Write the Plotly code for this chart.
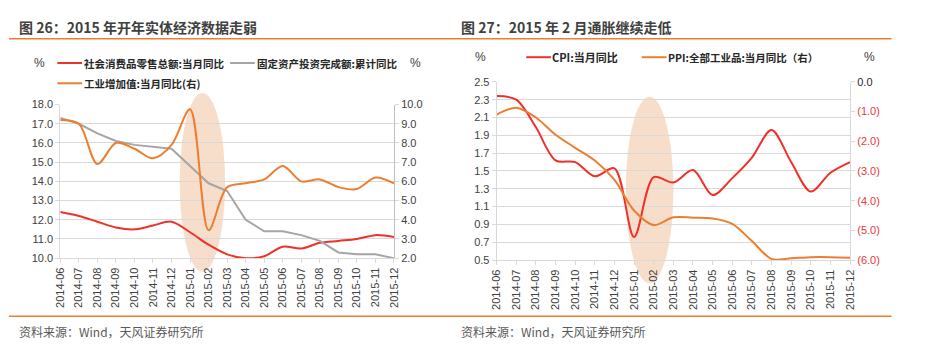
import plotly.graph_objects as go

W, H = 938, 355

months = ["2014-06", "2014-07", "2014-08", "2014-09", "2014-10", "2014-11", "2014-12",
          "2015-01", "2015-02", "2015-03", "2015-04", "2015-05", "2015-06", "2015-07",
          "2015-08", "2015-09", "2015-10", "2015-11", "2015-12"]

# Chart 26
retail_yoy = [12.4, 12.2, 11.9, 11.6, 11.5, 11.7, 11.9, 11.35, 10.7, 10.2, 10.0, 10.1,
              10.6, 10.5, 10.8, 10.9, 11.0, 11.2, 11.1]
fai_ytd = [17.3, 17.0, 16.5, 16.1, 15.9, 15.8, 15.7, 14.8, 13.9, 13.5, 12.0, 11.4,
           11.4, 11.2, 10.9, 10.3, 10.2, 10.2, 10.0]
ip_yoy = [9.2, 9.0, 6.9, 8.0, 7.7, 7.2, 7.9, 9.75, 3.45, 5.7, 5.9, 6.1,
          6.8, 6.0, 6.1, 5.7, 5.6, 6.2, 5.9]

# Chart 27
cpi_yoy = [2.34, 2.30, 1.99, 1.62, 1.60, 1.44, 1.53, 0.76, 1.43, 1.37, 1.51, 1.23,
           1.42, 1.65, 1.96, 1.60, 1.27, 1.48, 1.60]
ppi_yoy = [-1.1, -0.87, -1.2, -1.78, -2.22, -2.65, -3.3, -4.33, -4.82, -4.56, -4.57, -4.6,
           -4.78, -5.36, -5.96, -5.94, -5.9, -5.9, -5.92]

left_ticks = [10, 11, 12, 13, 14, 15, 16, 17, 18]
right_ticks = [2, 3, 4, 5, 6, 7, 8, 9, 10]
cpi_ticks = [0.5, 0.7, 0.9, 1.1, 1.3, 1.5, 1.7, 1.9, 2.1, 2.3, 2.5]
ppi_ticks = [-6, -5, -4, -3, -2, -1, 0]
ppi_ticktext = ["(6.0)", "(5.0)", "(4.0)", "(3.0)", "(2.0)", "(1.0)",
                "<span style='color:#262626'>0.0</span>"]

RED = "#f0302a"
ORANGE = "#ed7d31"
GRAY = "#a5a5a5"
GRID = "#d9d9d9"
TXT = "#404040"
FONT = "Liberation Sans, Arial, Noto Sans CJK SC"
CJK = "Noto Sans CJK SC"


def px(x):
    return x / W


def py(y):
    return (H - y) / H


fig = go.Figure()

fig.add_trace(go.Scatter(x=months, y=retail_yoy, xaxis="x", yaxis="y", mode="lines",
                         line=dict(color=RED, width=2, shape="spline", smoothing=0.9),
                         name="社会消费品零售总额:当月同比"))
fig.add_trace(go.Scatter(x=months, y=fai_ytd, xaxis="x", yaxis="y", mode="lines",
                         line=dict(color=GRAY, width=2),
                         name="固定资产投资完成额:累计同比"))
fig.add_trace(go.Scatter(x=months, y=ip_yoy, xaxis="x", yaxis="y2", mode="lines",
                         line=dict(color=ORANGE, width=2, shape="spline", smoothing=0.9),
                         name="工业增加值:当月同比(右)"))
fig.add_trace(go.Scatter(x=months, y=cpi_yoy, xaxis="x2", yaxis="y3", mode="lines",
                         line=dict(color=RED, width=2, shape="spline", smoothing=0.9),
                         name="CPI:当月同比"))
fig.add_trace(go.Scatter(x=months, y=ppi_yoy, xaxis="x2", yaxis="y4", mode="lines",
                         line=dict(color=ORANGE, width=2, shape="spline", smoothing=0.9),
                         name="PPI:全部工业品:当月同比（右）"))

xcommon = dict(type="category", range=[0, 18], showline=True, linecolor=GRID, linewidth=1,
               ticks="outside", ticklen=4, tickcolor=GRID, tickangle=-90,
               tickfont=dict(size=11, color=TXT, family=FONT), showgrid=False,
               zeroline=False, fixedrange=True)

fig.update_layout(
    width=W, height=H, margin=dict(l=0, r=0, t=0, b=0),
    paper_bgcolor="white", plot_bgcolor="white", showlegend=False,
    font=dict(family=FONT, color=TXT),
    xaxis=dict(xcommon, domain=[px(55), px(393)], anchor="y"),
    yaxis=dict(domain=[py(261), py(102)], range=[10, 18], tickvals=left_ticks,
               tickformat=".1f", showgrid=True, gridcolor=GRID, gridwidth=1,
               showline=True, linecolor=GRID, ticks="outside", ticklen=4, tickcolor=GRID,
               tickfont=dict(size=11, color=TXT, family=FONT), zeroline=False,
               anchor="x"),
    yaxis2=dict(overlaying="y", side="right", range=[2, 10], tickvals=right_ticks,
                tickformat=".1f", showgrid=False, showline=True, linecolor="#bfbfbf",
                ticks="outside", ticklen=4, tickcolor=GRID,
                tickfont=dict(size=11, color=TXT, family=FONT), zeroline=False,
                anchor="x"),
    xaxis2=dict(xcommon, domain=[px(497), px(855)], anchor="y3"),
    yaxis3=dict(domain=[py(263), py(78.5)], range=[0.5, 2.5], tickvals=cpi_ticks,
                tickformat=".1f", showgrid=True, gridcolor=GRID, gridwidth=1,
                showline=True, linecolor=GRID, ticks="outside", ticklen=4, tickcolor=GRID,
                tickfont=dict(size=11, color=TXT, family=FONT), zeroline=False,
                anchor="x2"),
    yaxis4=dict(overlaying="y3", side="right", range=[-6, 0], tickvals=ppi_ticks,
                ticktext=ppi_ticktext, showgrid=False, showline=True, linecolor=GRID,
                ticks="outside", ticklen=4, tickcolor=GRID,
                tickfont=dict(size=11, color="#e8383d", family=FONT), zeroline=False,
                anchor="x2"),
)

shapes = []
# highlight ellipses
shapes.append(dict(type="circle", xref="x", yref="paper", x0=6.44, x1=8.89,
                   y0=py(275), y1=py(90), fillcolor="rgba(242,200,168,0.6)",
                   line=dict(width=0), layer="between"))
shapes.append(dict(type="circle", xref="x2", yref="paper", x0=6.58, x1=9.0,
                   y0=py(287), y1=py(94), fillcolor="rgba(242,200,168,0.6)",
                   line=dict(width=0), layer="between"))
# separator lines
for yy in (34, 321):
    shapes.append(dict(type="line", xref="paper", yref="paper", x0=px(3), x1=px(897),
                       y0=py(yy), y1=py(yy), line=dict(color=ORANGE, width=1.5)))
# legend samples
leg_lines = [(52, 77, 59, RED), (227, 252, 59, GRAY), (52, 77, 80, ORANGE),
             (527, 552, 53, RED), (644, 669, 53, ORANGE)]
for x0, x1, yy, c in leg_lines:
    shapes.append(dict(type="line", xref="paper", yref="paper", x0=px(x0), x1=px(x1),
                       y0=py(yy), y1=py(yy), line=dict(color=c, width=2)))
fig.update_layout(shapes=shapes)

ann = []


def text(x, y, s, size, color=TXT, bold=False, family=CJK, anchor="left"):
    if bold:
        s = "<b>" + s + "</b>"
    ann.append(dict(x=px(x), y=py(y), xref="paper", yref="paper", text=s,
                    showarrow=False, xanchor=anchor, yanchor="middle",
                    font=dict(size=size, color=color, family=family)))


text(11, 22, "图 26：2015 年开年实体经济数据走弱", 14, "#404040", True)
text(459, 22, "图 27：2015 年 2 月通胀继续走低", 14, "#404040", True)
text(11, 337, "资料来源：Wind，天风证券研究所", 12, "#595959")
text(459, 337, "资料来源：Wind，天风证券研究所", 12, "#595959")

text(26, 59, "%", 12, TXT, family=FONT)
text(407, 59, "%", 12, TXT, family=FONT)
text(77, 59, "社会消费品零售总额:当月同比", 10.5, "#262626", True)
text(252, 59, "固定资产投资完成额:累计同比", 10.5, "#262626", True)
text(77, 80, "工业增加值:当月同比(右)", 10.5, "#262626", True)

text(473, 53, "%", 12, TXT, family=FONT)
text(867, 53, "%", 12, TXT, family=FONT)
text(551, 53, "CPI:当月同比", 11, "#262626", True)
text(669, 53, "PPI:全部工业品:当月同比（右）", 10.5, "#262626", True)

fig.update_layout(annotations=ann)

fig.write_html("out.html", config={"displayModeBar": False},
               post_script="document.body.style.margin='0';")
